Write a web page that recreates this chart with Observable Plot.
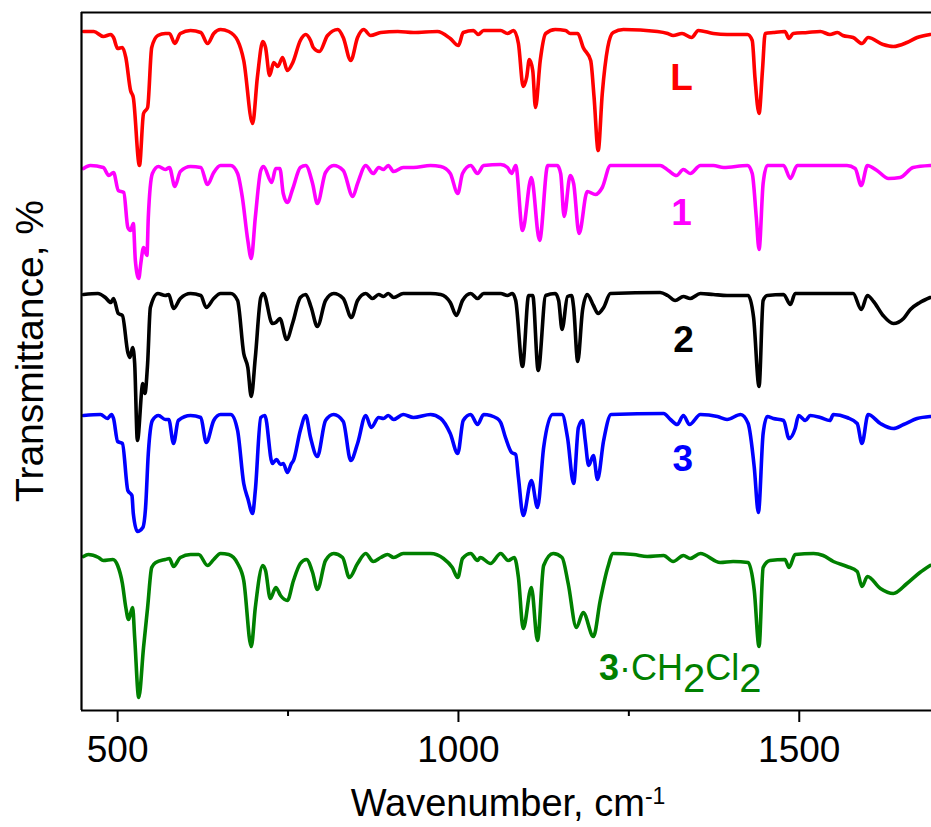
<!DOCTYPE html>
<html><head><meta charset="utf-8">
<script src="https://cdn.jsdelivr.net/npm/d3@7"></script>
<script src="https://cdn.jsdelivr.net/npm/@observablehq/plot@0.6"></script>
<style>body{margin:0;background:#fff}</style>
</head><body><div id="chart"></div>
<script>
// Series (top to bottom) and their colours
const seriesNames = ["L", "1", "2", "3", "3·CH2Cl2"];
const seriesColors = ["#ff0000", "#ff00ff", "#000000", "#0000ff", "#008000"];

// [wavenumber (cm-1), transmittance (offset, arbitrary units)]
const specL = [[450,679],[465,679],[479,674],[490,676],[494,673],[500,662],[507,663],[512,653],[519,620],[523,613],[532,545],[538,597],[544,603],[550,663],[559,675],[570,677],[576,677],[584,667],[592,677],[607,680],[622,678],[632,667],[641,677],[651,681],[663,679],[676,670],[685,650],[698,587],[705,633],[713,669],[717,663],[723,635],[729,648],[735,644],[742,653],[749,640],[757,648],[768,670],[776,676],[783,670],[787,663],[796,659],[808,675],[823,681],[831,673],[842,650],[852,673],[861,681],[871,675],[886,678],[911,679],[934,678],[969,679],[988,672],[1000,665],[1007,678],[1022,680],[1029,676],[1037,680],[1062,680],[1072,677],[1081,680],[1088,667],[1095,624],[1100,633],[1104,651],[1109,640],[1113,603],[1120,650],[1128,677],[1142,681],[1157,680],[1164,677],[1175,677],[1183,663],[1194,650],[1199,613],[1205,560],[1211,617],[1219,663],[1227,678],[1242,681],[1292,679],[1307,677],[1315,675],[1328,677],[1342,673],[1352,680],[1374,677],[1394,676],[1424,676],[1431,670],[1435,633],[1441,597],[1446,640],[1450,677],[1462,678],[1479,679],[1485,672],[1491,677],[1512,678],[1531,679],[1545,676],[1556,678],[1564,675],[1579,673],[1592,667],[1601,673],[1623,666],[1638,664],[1658,668],[1673,673],[1692,676]];

const spec1 = [[450,542],[460,545],[479,543],[487,535],[494,538],[501,520],[509,518],[515,483],[519,480],[523,487],[526,450],[531,432],[534,447],[538,463],[543,455],[545,493],[551,537],[560,544],[570,541],[576,543],[584,524],[592,539],[607,544],[622,543],[632,526],[641,538],[651,545],[666,545],[676,537],[683,513],[691,470],[696,452],[702,493],[710,540],[714,544],[726,528],[732,542],[738,542],[743,517],[749,508],[757,522],[768,543],[776,545],[786,527],[793,507],[805,538],[817,545],[831,540],[845,514],[852,527],[864,545],[875,537],[883,543],[890,541],[897,545],[905,539],[919,543],[934,543],[959,545],[974,544],[988,537],[999,517],[1006,537],[1018,545],[1028,537],[1037,545],[1062,546],[1072,543],[1078,537],[1084,545],[1094,480],[1107,533],[1119,470],[1131,545],[1145,545],[1150,537],[1155,494],[1164,535],[1169,527],[1177,477],[1189,519],[1201,516],[1211,523],[1223,545],[1296,545],[1308,540],[1320,535],[1330,541],[1340,537],[1355,545],[1374,545],[1389,543],[1424,545],[1431,537],[1437,493],[1441,461],[1447,527],[1453,545],[1477,545],[1487,532],[1497,545],[1570,545],[1582,542],[1591,525],[1600,545],[1614,540],[1631,532],[1648,533],[1667,543],[1692,545]];

const spec2 = [[450,416],[471,417],[482,413],[490,408],[494,412],[501,397],[507,395],[515,358],[518,353],[522,363],[525,347],[529,270],[537,327],[540,317],[544,347],[548,403],[559,417],[570,415],[575,416],[582,402],[592,412],[607,417],[622,415],[630,403],[641,412],[651,417],[666,417],[676,410],[685,357],[691,343],[696,314],[702,353],[710,413],[714,417],[727,387],[732,388],[738,392],[748,371],[757,388],[768,413],[776,416],[784,403],[793,384],[805,410],[817,417],[831,412],[843,393],[852,410],[864,417],[874,412],[883,416],[890,414],[897,417],[905,413],[919,417],[959,417],[974,416],[988,408],[997,395],[1006,410],[1018,417],[1028,412],[1037,417],[1062,417],[1072,415],[1079,417],[1084,410],[1094,344],[1103,415],[1109,415],[1117,340],[1128,415],[1142,417],[1147,410],[1152,381],[1160,414],[1166,415],[1169,403],[1175,349],[1182,400],[1189,416],[1198,405],[1205,397],[1213,403],[1223,417],[1296,418],[1307,415],[1318,410],[1330,414],[1340,412],[1355,417],[1374,416],[1394,415],[1425,415],[1433,393],[1441,324],[1447,410],[1453,415],[1477,416],[1487,406],[1494,417],[1521,417],[1550,417],[1579,417],[1591,401],[1600,415],[1609,409],[1623,395],[1638,387],[1653,392],[1663,401],[1677,408],[1692,413]];

const spec3 = [[450,295],[475,296],[485,292],[491,296],[494,292],[500,269],[507,267],[515,220],[521,215],[523,197],[529,179],[537,183],[541,203],[545,257],[551,290],[560,295],[570,291],[575,291],[582,267],[589,290],[607,295],[622,293],[630,268],[641,290],[651,296],[666,296],[676,280],[685,227],[691,212],[698,197],[702,220],[710,293],[716,295],[727,247],[733,251],[739,246],[743,247],[749,238],[755,247],[758,250],[768,280],[776,295],[783,273],[793,254],[805,290],[817,296],[831,289],[842,250],[852,267],[864,295],[872,283],[883,293],[890,292],[897,295],[905,291],[919,296],[934,293],[959,296],[974,292],[988,277],[999,257],[1007,290],[1018,296],[1028,286],[1037,296],[1057,292],[1062,288],[1069,273],[1078,258],[1084,256],[1088,233],[1095,195],[1107,230],[1116,203],[1125,263],[1138,296],[1152,296],[1160,273],[1169,227],[1176,283],[1182,290],[1186,270],[1191,245],[1198,255],[1204,231],[1213,270],[1224,296],[1301,297],[1311,291],[1321,286],[1330,295],[1339,286],[1355,296],[1380,294],[1394,291],[1414,296],[1425,287],[1434,243],[1440,198],[1447,277],[1453,294],[1462,292],[1477,290],[1485,272],[1494,282],[1499,295],[1509,290],[1516,295],[1531,293],[1545,290],[1550,296],[1570,293],[1585,287],[1592,267],[1601,296],[1619,287],[1638,282],[1653,286],[1673,292],[1692,294]];

const spec3CH2Cl2 = [[450,154],[457,156],[472,153],[479,150],[493,151],[500,145],[507,127],[512,103],[516,91],[522,103],[525,73],[531,13],[538,63],[544,103],[550,143],[556,148],[570,151],[576,152],[582,144],[592,153],[607,156],[619,156],[632,145],[641,151],[651,157],[663,156],[676,147],[685,130],[696,64],[702,103],[713,145],[717,140],[724,112],[732,123],[739,115],[749,110],[758,130],[768,147],[777,151],[786,138],[793,121],[805,150],[817,157],[830,153],[840,133],[852,147],[864,157],[875,149],[886,153],[896,156],[905,153],[919,157],[959,157],[978,152],[991,143],[999,133],[1006,152],[1018,157],[1028,150],[1032,153],[1047,147],[1062,157],[1073,150],[1082,153],[1088,133],[1095,82],[1107,123],[1116,70],[1125,145],[1139,157],[1152,153],[1161,127],[1173,83],[1183,98],[1198,74],[1208,110],[1219,143],[1227,157],[1257,156],[1277,154],[1301,155],[1315,149],[1330,155],[1340,152],[1355,157],[1384,148],[1403,149],[1425,148],[1434,120],[1441,64],[1447,143],[1457,150],[1479,151],[1485,143],[1494,156],[1521,157],[1535,155],[1550,149],[1570,144],[1585,139],[1592,124],[1600,134],[1619,122],[1638,117],[1658,127],[1677,138],[1692,145]];

// Axis ticks and domains
const xTicks = [500, 1000, 1500];
const xMinorTicks = [750, 1250];
const xDomain = [447, 1694];
const yDomain = [0, 698];

// Series label anchor points [wavenumber, transmittance]
const labelPos = [[1328, 620], [1328, 485], [1331, 358], [1330, 239], [1207, 30]];

const spectra = [specL, spec1, spec2, spec3, spec3CH2Cl2];
const rows = [];
for (let i = spectra.length - 1; i >= 0; i--) {
  for (const [wn, t] of spectra[i]) rows.push({series: seriesNames[i], wn, t});
}

const font = "'Liberation Sans', Arial, Helvetica, sans-serif";

const plot = Plot.plot({
  width: 931, height: 827,
  marginTop: 12, marginBottom: 117, marginLeft: 81, marginRight: 0,
  style: {fontFamily: font, background: "white", color: "black", overflow: "visible"},
  x: {domain: xDomain},
  y: {domain: yDomain, axis: null},
  color: {domain: seriesNames, range: seriesColors},
  marks: [
    Plot.line(rows, {x: "wn", y: "t", z: "series", stroke: "series", strokeWidth: 3.6,
      curve: "monotone-x", strokeLinejoin: "round", strokeLinecap: "round"}),
    Plot.ruleY([yDomain[0], yDomain[1]], {stroke: "black", strokeWidth: 2.2}),
    Plot.ruleX([xDomain[0]], {stroke: "black", strokeWidth: 2.2}),
    Plot.axisX({ticks: xTicks, tickSize: 12, tickPadding: 13, strokeWidth: 2,
      fontSize: 37, label: null, tickFormat: d => String(d)}),
    Plot.axisX({ticks: xMinorTicks, tickSize: 6, strokeWidth: 2, tickFormat: () => "", label: null})
  ]
});

const svg = d3.select(plot);
const xs = plot.scale("x"), ys = plot.scale("y");
const g = svg.append("g").attr("font-family", font);

// Simple series labels
for (let i = 0; i < 4; i++) {
  g.append("text")
    .attr("x", xs.apply(labelPos[i][0]))
    .attr("y", ys.apply(labelPos[i][1]))
    .attr("text-anchor", "middle")
    .attr("font-weight", "bold")
    .attr("font-size", 37)
    .attr("fill", seriesColors[i])
    .text(seriesNames[i]);
}
// 3·CH2Cl2 label with subscripts
const t5 = g.append("text")
  .attr("x", xs.apply(labelPos[4][0]))
  .attr("y", ys.apply(labelPos[4][1]))
  .attr("text-anchor", "start")
  .attr("font-size", 36)
  .attr("fill", seriesColors[4]);
t5.append("tspan").attr("font-weight", "bold").text("3");
t5.append("tspan").text("·CH");
t5.append("tspan").attr("dy", 12).attr("font-size", 40).text("2");
t5.append("tspan").attr("dy", -12).text("Cl");
t5.append("tspan").attr("dy", 12).attr("font-size", 40).text("2");

// Axis titles
const xt = g.append("text").attr("x", 508).attr("y", 816).attr("text-anchor", "middle")
  .attr("font-size", 38).attr("fill", "black");
xt.append("tspan").text("Wavenumber, cm");
xt.append("tspan").attr("dy", -12).attr("font-size", 23).text("-1");

g.append("text").attr("transform", "translate(43,351) rotate(-90)")
  .attr("text-anchor", "middle").attr("font-size", 39).attr("fill", "black")
  .text("Transmittance, %");

document.getElementById("chart").appendChild(plot);
</script>
</body></html>
